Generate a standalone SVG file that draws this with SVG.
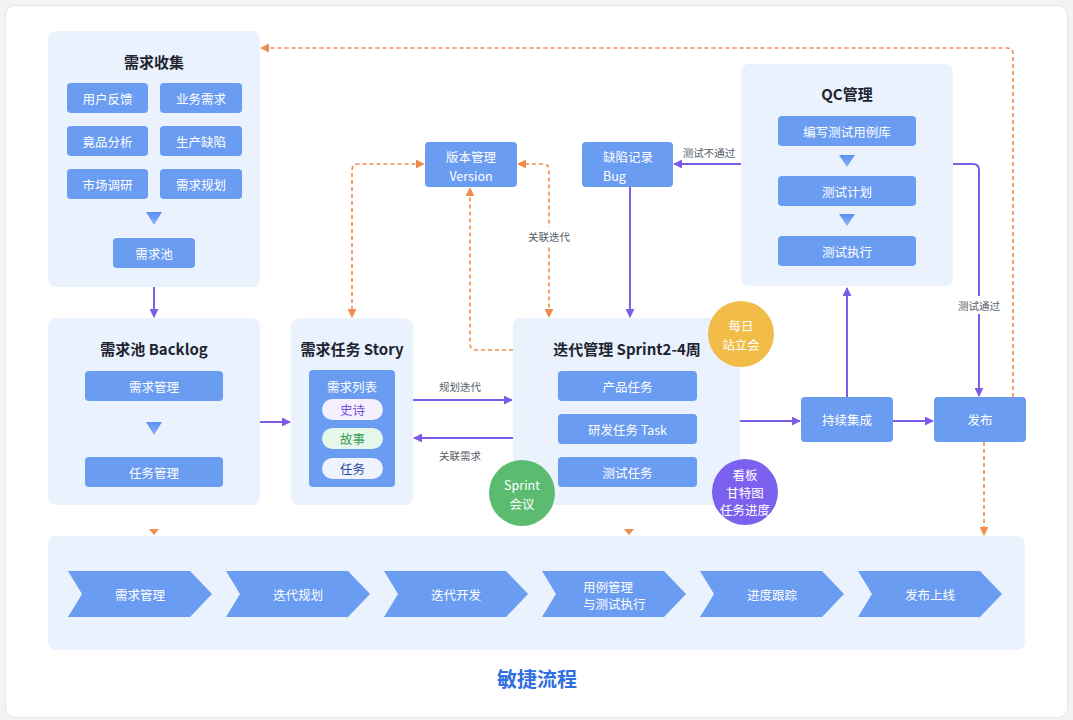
<svg xmlns="http://www.w3.org/2000/svg" width="1073" height="720" viewBox="0 0 1073 720">
<style>
text{font-family:"Noto Sans CJK SC","Noto Sans",sans-serif;}
.panel{fill:#eaf2fd;}
.btn{fill:#6a9cf2;}
.bt{fill:#ffffff;font-size:12.5px;text-anchor:middle;dominant-baseline:central;}
.bs{fill:#ffffff;font-size:12.5px;text-anchor:start;dominant-baseline:central;}
.ttl{fill:#1f2430;font-size:15px;font-weight:bold;text-anchor:middle;dominant-baseline:central;}
.lbl{fill:#555b66;font-size:10.5px;text-anchor:middle;dominant-baseline:central;}
.lblbg{fill:#ffffff;}
.pl{fill:none;stroke:#7c5ce8;stroke-width:2;}
.ol{fill:none;stroke:#ef8d4e;stroke-width:1.6;stroke-dasharray:4 3;}
.circ{fill:#ffffff;font-size:12.5px;text-anchor:middle;dominant-baseline:central;}
</style>
<defs>
<marker id="pa" viewBox="0 0 10 10" refX="9" refY="5" markerWidth="9" markerHeight="9" markerUnits="userSpaceOnUse" orient="auto-start-reverse"><path d="M0,0 L10,5 L0,10 Z" fill="#7c5ce8"/></marker>
<marker id="oa" viewBox="0 0 10 10" refX="9" refY="5" markerWidth="9" markerHeight="9" markerUnits="userSpaceOnUse" orient="auto-start-reverse"><path d="M0,0 L10,5 L0,10 Z" fill="#ef8d4e"/></marker>
<linearGradient id="tg" x1="0" y1="0" x2="0" y2="1"><stop offset="0" stop-color="#5b90ef"/><stop offset="1" stop-color="#8db4f6"/></linearGradient>
</defs>
<rect x="0" y="0" width="1073" height="720" fill="#f2f3f5"/>
<rect x="5.5" y="5.5" width="1062" height="712" rx="10" fill="#ffffff" stroke="#e4e6ea"/>

<g id="collect">
<rect class="panel" x="48" y="31" width="212" height="256" rx="8"/>
<text class="ttl" x="154" y="61">需求收集</text>
<rect class="btn" x="67" y="83" width="81" height="30" rx="4"/><text class="bt" x="107.5" y="98">用户反馈</text>
<rect class="btn" x="160" y="83" width="82" height="30" rx="4"/><text class="bt" x="201" y="98">业务需求</text>
<rect class="btn" x="67" y="126" width="81" height="30" rx="4"/><text class="bt" x="107.5" y="141">竟品分析</text>
<rect class="btn" x="160" y="126" width="82" height="30" rx="4"/><text class="bt" x="201" y="141">生产缺陷</text>
<rect class="btn" x="67" y="169" width="81" height="30" rx="4"/><text class="bt" x="107.5" y="184">市场调研</text>
<rect class="btn" x="160" y="169" width="82" height="30" rx="4"/><text class="bt" x="201" y="184">需求规划</text>
<path d="M146,212 H162 L154,225 Z" fill="url(#tg)"/>
<rect class="btn" x="113" y="238" width="82" height="30" rx="4"/><text class="bt" x="154" y="253">需求池</text>
</g>

<g id="backlog">
<rect class="panel" x="48" y="318" width="212" height="187" rx="8"/>
<text class="ttl" x="154" y="348">需求池 Backlog</text>
<rect class="btn" x="85" y="371" width="138" height="30" rx="4"/><text class="bt" x="154" y="386">需求管理</text>
<path d="M146,422 H162 L154,435 Z" fill="url(#tg)"/>
<rect class="btn" x="85" y="457" width="138" height="30" rx="4"/><text class="bt" x="154" y="472">任务管理</text>
</g>

<g id="story">
<rect class="panel" x="291" y="318" width="122" height="187" rx="8"/>
<text class="ttl" x="352" y="348">需求任务 Story</text>
<rect class="btn" x="309" y="370" width="86" height="117" rx="4"/>
<text class="bt" x="352" y="386">需求列表</text>
<rect x="322" y="399" width="61" height="21" rx="10.5" fill="#f4f0fe"/><text x="352.5" y="409.5" font-size="12.5" fill="#7a4fe0" text-anchor="middle" dominant-baseline="central">史诗</text>
<rect x="322" y="428" width="61" height="21" rx="10.5" fill="#e5f6ea"/><text x="352.5" y="438.5" font-size="12.5" fill="#3a9e58" text-anchor="middle" dominant-baseline="central">故事</text>
<rect x="322" y="458" width="61" height="21" rx="10.5" fill="#eef3fd"/><text x="352.5" y="468.5" font-size="12.5" fill="#2b4b9e" text-anchor="middle" dominant-baseline="central">任务</text>
</g>

<g id="sprint">
<rect class="panel" x="513" y="318" width="227" height="187" rx="8"/>
<text class="ttl" x="627" y="348">迭代管理 Sprint2-4周</text>
<rect class="btn" x="558" y="371" width="139" height="30" rx="4"/><text class="bt" x="627.5" y="386">产品任务</text>
<rect class="btn" x="558" y="414" width="139" height="30" rx="4"/><text class="bt" x="627.5" y="429">研发任务 Task</text>
<rect class="btn" x="558" y="457" width="139" height="30" rx="4"/><text class="bt" x="627.5" y="472">测试任务</text>
</g>

<g id="standup">
<circle cx="741" cy="334" r="33" fill="#f1bc48"/>
<text class="circ" x="741" y="325">每日</text><text class="circ" x="741" y="344">站立会</text>
</g>
<g id="meeting">
<circle cx="522" cy="493" r="33" fill="#5bbb70"/>
<text class="circ" x="522" y="484">Sprint</text><text class="circ" x="522" y="503">会议</text>
</g>
<g id="kanban">
<circle cx="745" cy="492" r="33" fill="#7b61ee"/>
<text class="circ" x="745" y="474">看板</text><text class="circ" x="745" y="492">甘特图</text><text class="circ" x="745" y="509">任务进度</text>
</g>

<g id="version">
<rect class="btn" x="425" y="142" width="92" height="45" rx="4"/>
<text class="bt" x="471" y="156">版本管理</text><text class="bt" x="471" y="175">Version</text>
</g>

<g id="bug">
<rect class="btn" x="582" y="142" width="91" height="45" rx="4"/>
<text class="bs" x="603" y="156">缺陷记录</text><text class="bs" x="603" y="175">Bug</text>
</g>

<g id="qc">
<rect class="panel" x="741" y="64" width="212" height="222" rx="8"/>
<text class="ttl" x="847" y="93">QC管理</text>
<rect class="btn" x="778" y="116" width="138" height="30" rx="4"/><text class="bt" x="847" y="131">编写测试用例库</text>
<path d="M839,155 H855 L847,167 Z" fill="url(#tg)"/>
<rect class="btn" x="778" y="176" width="138" height="30" rx="4"/><text class="bt" x="847" y="191">测试计划</text>
<path d="M839,214 H855 L847,226 Z" fill="url(#tg)"/>
<rect class="btn" x="778" y="236" width="138" height="30" rx="4"/><text class="bt" x="847" y="251">测试执行</text>
</g>

<g id="ci">
<rect class="btn" x="801" y="397" width="92" height="45" rx="4"/><text class="bt" x="847" y="419.5">持续集成</text>
</g>
<g id="release">
<rect class="btn" x="934" y="397" width="92" height="45" rx="4"/><text class="bt" x="980" y="419.5">发布</text>
</g>

<g id="flow">
<rect class="panel" x="48" y="536" width="977" height="114" rx="8"/>
<path class="btn" d="M68,571 H190 L212,594 L190,617 H68 L82,594 Z"/><text class="bt" x="140" y="594">需求管理</text>
<path class="btn" d="M226,571 H348 L370,594 L348,617 H226 L240,594 Z"/><text class="bt" x="298" y="594">迭代规划</text>
<path class="btn" d="M384,571 H506 L528,594 L506,617 H384 L398,594 Z"/><text class="bt" x="456" y="594">迭代开发</text>
<path class="btn" d="M542,571 H664 L686,594 L664,617 H542 L556,594 Z"/><text class="bs" x="583" y="586">用例管理</text><text class="bs" x="583" y="603">与测试执行</text>
<path class="btn" d="M700,571 H822 L844,594 L822,617 H700 L714,594 Z"/><text class="bt" x="772" y="594">进度跟踪</text>
<path class="btn" d="M858,571 H980 L1002,594 L980,617 H858 L872,594 Z"/><text class="bt" x="930" y="594">发布上线</text>
</g>

<g id="connectors">
<path class="pl" d="M154,287 V317" marker-end="url(#pa)"/>
<path class="pl" d="M260,422 H290" marker-end="url(#pa)"/>
<path class="pl" d="M413,400 H512" marker-end="url(#pa)"/>
<path class="pl" d="M513,438 H414" marker-end="url(#pa)"/>
<path class="pl" d="M630,187 V317" marker-end="url(#pa)"/>
<path class="pl" d="M741,164 H674" marker-end="url(#pa)"/>
<path class="pl" d="M740,421 H800" marker-end="url(#pa)"/>
<path class="pl" d="M893,421 H933" marker-end="url(#pa)"/>
<path class="pl" d="M847,397 V288" marker-end="url(#pa)"/>
<path class="pl" d="M953,164 H973 Q979,164 979,170 V396" marker-end="url(#pa)"/>
<path class="ol" d="M1013,397 V54 Q1013,48 1007,48 H261" marker-end="url(#oa)"/>
<path class="ol" d="M352,317 V170 Q352,164 358,164 H424" marker-start="url(#oa)" marker-end="url(#oa)"/>
<path class="ol" d="M518,164 H543 Q549,164 549,170 V317" marker-start="url(#oa)" marker-end="url(#oa)"/>
<path class="ol" d="M513,350 H476 Q470,350 470,344 V188" marker-end="url(#oa)"/>
<path class="ol" d="M984,442 V535" marker-end="url(#oa)"/>
<path d="M149,529 H159 L154,535 Z" fill="#ef8d4e"/>
<path d="M624,529 H634 L629,535 Z" fill="#ef8d4e"/>
<rect class="lblbg" x="434" y="378" width="52" height="17" rx="4"/><text class="lbl" x="460" y="386.5">规划迭代</text>
<rect class="lblbg" x="434" y="447" width="52" height="17" rx="4"/><text class="lbl" x="460" y="455.5">关联需求</text>
<rect class="lblbg" x="522" y="227" width="54" height="18" rx="4"/><text class="lbl" x="549" y="236">关联迭代</text>
<rect class="lblbg" x="680" y="144" width="58" height="16" rx="4"/><text class="lbl" x="709" y="152">测试不通过</text>
<rect class="lblbg" x="953" y="296" width="52" height="18" rx="4"/><text class="lbl" x="979" y="305">测试通过</text>
</g>

<text x="537" y="678" font-size="20" font-weight="bold" fill="#2f6fdf" text-anchor="middle" dominant-baseline="central">敏捷流程</text>
</svg>
